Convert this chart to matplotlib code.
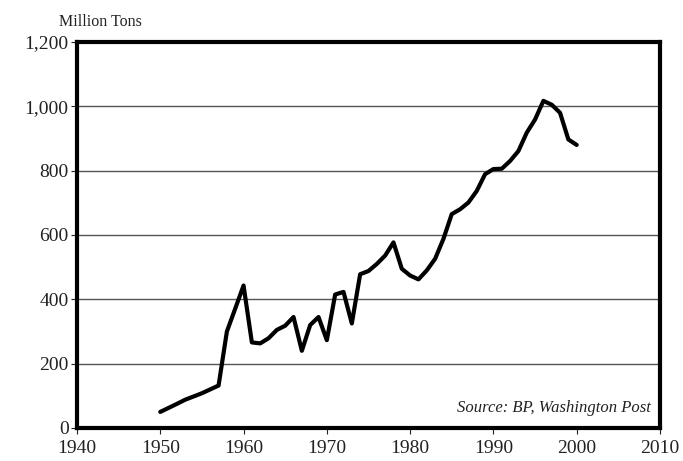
import matplotlib.pyplot as plt
from matplotlib.ticker import FuncFormatter

# China coal production, million tons
years = [1950, 1952, 1953, 1955, 1957, 1958, 1959, 1960, 1961, 1962, 1963,
         1964, 1965, 1966, 1967, 1968, 1969, 1970, 1971, 1972, 1973, 1974,
         1975, 1976, 1977, 1978, 1979, 1980, 1981, 1982, 1983, 1984, 1985,
         1986, 1987, 1988, 1989, 1990, 1991, 1992, 1993, 1994, 1995, 1996,
         1997, 1998, 1999, 2000]
tons = [50, 75, 88, 108, 132, 300, 371, 443, 266, 263, 279,
        305, 318, 345, 240, 320, 345, 273, 415, 423, 325, 478,
        488, 510, 536, 577, 495, 474, 462, 490, 526, 588, 665,
        680, 701, 737, 789, 805, 806, 830, 861, 918, 959, 1017,
        1005, 980, 897, 880]

x_ticks = [1940, 1950, 1960, 1970, 1980, 1990, 2000, 2010]
y_ticks = [0, 200, 400, 600, 800, 1000, 1200]

plt.rcParams['font.family'] = ['Liberation Serif', 'DejaVu Serif']

fig = plt.figure(figsize=(6.83, 4.61), dpi=100)
ax = fig.add_axes([0.1127, 0.0716, 0.8536, 0.8373])

ax.plot(years, tons, color='black', linewidth=3.0, solid_capstyle='round',
        solid_joinstyle='round', zorder=3)

ax.set_xlim(1940, 2010)
ax.set_ylim(0, 1200)
ax.set_xticks(x_ticks)
ax.set_yticks(y_ticks)
ax.yaxis.set_major_formatter(FuncFormatter(lambda v, p: f'{int(v):,}'))

for v in y_ticks[1:-1]:
    ax.axhline(v, color='#555555', linewidth=1.0, zorder=1)

for s in ax.spines.values():
    s.set_linewidth(3)
    s.set_color('black')

ax.tick_params(axis='both', labelsize=14, colors='#222222', length=4,
               width=0.8, direction='out')
ax.tick_params(axis='x', pad=5)
ax.tick_params(axis='y', pad=2)

fig.text(0.087, 0.935, 'Million Tons', fontsize=11.5, color='#222222',
         ha='left', va='bottom')
ax.text(0.985, 0.03, 'Source: BP, Washington Post', transform=ax.transAxes,
        fontsize=12, style='italic', color='#222222', ha='right', va='bottom')

fig.savefig('out.png', dpi=100)
